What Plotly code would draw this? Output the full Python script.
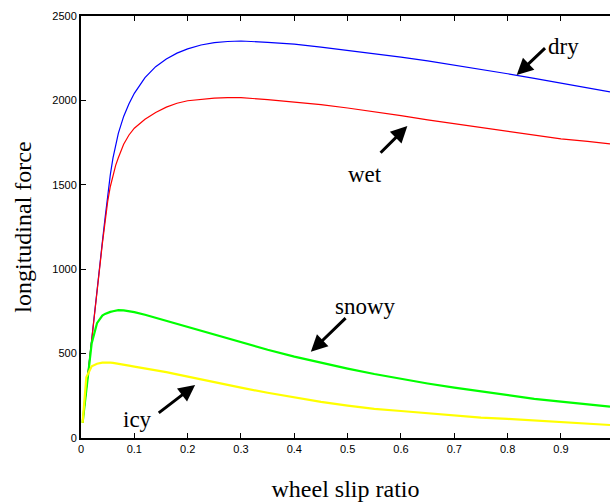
import plotly.graph_objects as go

# wheel slip ratio samples
slip = [0.003, 0.01, 0.02, 0.03, 0.04, 0.045, 0.05, 0.055, 0.06, 0.065, 0.07,
        0.08, 0.09, 0.1, 0.12, 0.14, 0.16, 0.18, 0.2, 0.225, 0.25, 0.275,
        0.3, 0.35, 0.4, 0.45, 0.5, 0.55, 0.6, 0.65, 0.7, 0.75, 0.8, 0.85,
        0.9, 0.95, 0.992]

dry = [90, 300, 590, 870, 1160, 1300, 1440, 1560, 1660, 1740, 1805,
       1905, 1980, 2042, 2135, 2200, 2245, 2280, 2305, 2328, 2342, 2349,
       2352, 2344, 2333, 2316, 2297, 2277, 2256, 2234, 2210, 2185, 2158, 2131,
       2103, 2075, 2051]

wet = [90, 300, 585, 865, 1150, 1290, 1400, 1490, 1560, 1615, 1660,
       1740, 1795, 1835, 1888, 1928, 1960, 1983, 1998, 2008, 2014, 2016,
       2016, 2005, 1992, 1975, 1955, 1934, 1910, 1885, 1862, 1840, 1818, 1795,
       1772, 1757, 1742]

snowy = [90, 300, 560, 680, 725, 735, 742, 747, 751, 755, 757,
         756, 752, 746, 730, 712, 694, 676, 657, 634, 611, 588,
         566, 523, 482, 445, 411, 379, 350, 323, 298, 275, 253, 232,
         215, 199, 186]

icy = [90, 360, 425, 440, 446, 447, 447, 446, 445, 443, 441,
       435, 429, 423, 413, 402, 390, 377, 364, 347, 327, 312,
       298, 268, 241, 214, 192, 173, 160, 147, 134, 121, 113, 104,
       95, 85, 77]

series_names = ["dry", "wet", "snowy", "icy"]
series_values = [dry, wet, snowy, icy]
series_colors = ["#0000ff", "#ff0000", "#00ff00", "#ffff00"]
series_widths = [1.2, 1.2, 2.2, 2.2]

x_ticks = [0, 0.1, 0.2, 0.3, 0.4, 0.5, 0.6, 0.7, 0.8, 0.9]
x_tick_labels = ["0", "0.1", "0.2", "0.3", "0.4", "0.5", "0.6", "0.7", "0.8", "0.9"]
y_ticks = [0, 500, 1000, 1500, 2000, 2500]
y_tick_labels = ["0", "500", "1000", "1500", "2000", "2500"]

# label text position, arrow tail, arrow tip (data coords)
labels = [
    ("dry", 0.905, 2318, 0.873, 2318, 0.817, 2150),
    ("wet", 0.533, 1564, 0.559, 1681, 0.612, 1848),
    ("snowy", 0.533, 778, 0.499, 719, 0.431, 511),
    ("icy", 0.106, 107, 0.143, 142, 0.214, 314),
]

fig = go.Figure()
for name, vals, col, w in zip(series_names, series_values, series_colors, series_widths):
    fig.add_trace(go.Scatter(x=slip, y=vals, mode="lines", name=name,
                             line=dict(color=col, width=w)))

annotations = []
for text, tx, ty, ax, ay, hx, hy in labels:
    annotations.append(dict(x=tx, y=ty, xref="x", yref="y", text=text,
                            showarrow=False,
                            font=dict(family="Liberation Serif", size=23, color="black")))
    annotations.append(dict(x=hx, y=hy, xref="x", yref="y", ax=ax, ay=ay,
                            axref="x", ayref="y", text="", showarrow=True,
                            arrowhead=2, arrowsize=1.1, arrowwidth=3,
                            arrowcolor="black", standoff=0, startstandoff=0))

fig.update_layout(
    width=610, height=502,
    margin=dict(l=81, r=0, t=16, b=64),
    paper_bgcolor="white", plot_bgcolor="white",
    showlegend=False,
    annotations=annotations,
    font=dict(family="Liberation Sans", size=11, color="black"),
)
fig.update_xaxes(
    range=[0, 0.992], tickvals=x_ticks, ticktext=x_tick_labels,
    ticks="inside", ticklen=5, tickwidth=1, tickcolor="black",
    showline=True, linecolor="black", linewidth=2, mirror="ticks",
    showgrid=False, zeroline=False, automargin=False,
    title=dict(text="wheel slip ratio", standoff=31,
               font=dict(family="Liberation Serif", size=24, color="black")),
    tickfont=dict(family="Liberation Sans", size=11, color="black"),
)
fig.update_yaxes(
    range=[0, 2500], tickvals=y_ticks, ticktext=y_tick_labels,
    ticks="inside", ticklen=5, tickwidth=1, tickcolor="black",
    showline=True, linecolor="black", linewidth=2, mirror=False,
    showgrid=False, zeroline=False, automargin=False,
    title=dict(text="longitudinal force", standoff=14,
               font=dict(family="Liberation Serif", size=24, color="black")),
    tickfont=dict(family="Liberation Sans", size=11, color="black"),
)

fig.write_html("out.html", config={"displayModeBar": False},
               post_script="document.body.style.margin='0px';document.body.style.overflow='hidden';")
